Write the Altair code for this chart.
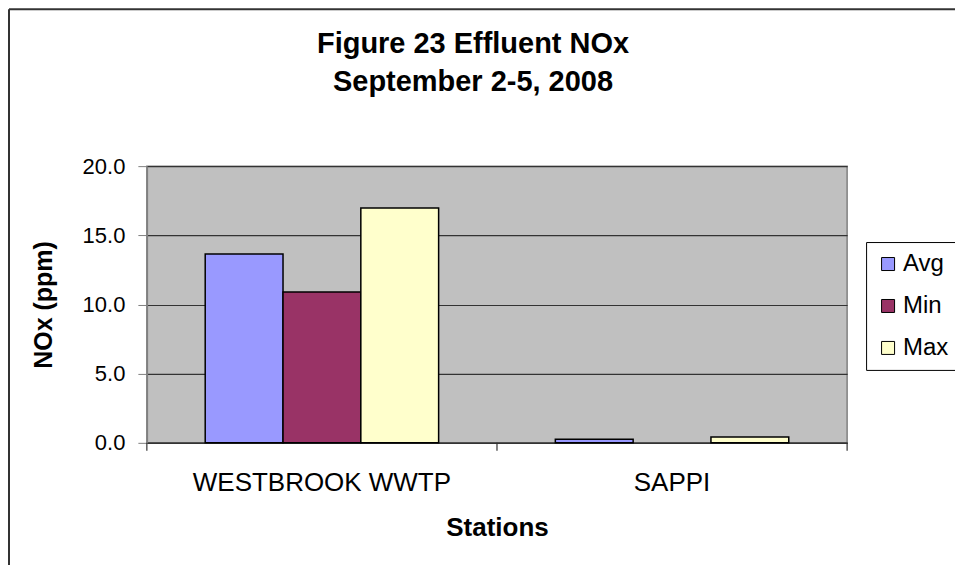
import altair as alt
import pandas as pd

stations = ["WESTBROOK WWTP", "SAPPI"]
series = ["Avg", "Min", "Max"]
avg_vals = [13.65, 0.26]
min_vals = [10.9, None]
max_vals = [16.98, 0.43]
colors = ["#9999FF", "#993366", "#FFFFCC"]
y_ticks = [0, 5, 10, 15, 20]

rows = []
for i, s in enumerate(stations):
    for name, vals in zip(series, [avg_vals, min_vals, max_vals]):
        if vals[i] is not None:
            rows.append({"Station": s, "Series": name, "NOx": vals[i]})
df = pd.DataFrame(rows)
st_df = pd.DataFrame({"Station": stations})

W, H = 701, 277
FONT = "Liberation Sans"

x_axis = alt.Axis(
    title="Stations", ticks=False, domainColor="#333333", domainWidth=1.5,
    labelAngle=0, labelFontSize=26, labelPadding=27, labelFont=FONT, labelLimit=0,
    labelColor="black", titleFontSize=26, titleFont=FONT, titleFontWeight="bold",
    titleColor="black", titlePadding=19, grid=False,
)
x_scale = alt.Scale(paddingInner=0, paddingOuter=0)

bars = alt.Chart(df).mark_bar(stroke="black", strokeWidth=1.5).encode(
    x=alt.X("Station:N", sort=stations, scale=x_scale, axis=x_axis),
    xOffset=alt.XOffset("Series:N", sort=series,
                        scale=alt.Scale(paddingInner=0, paddingOuter=0.75)),
    y=alt.Y("NOx:Q", scale=alt.Scale(domain=[0, 20], nice=False),
            axis=alt.Axis(
                title="NOx (ppm)", values=y_ticks, format=".1f",
                tickSize=9, tickColor="#808080", domainColor="#808080",
                domainWidth=1.5, labelFontSize=22, labelPadding=13,
                labelFont=FONT, labelColor="black",
                titleFontSize=25, titleFont=FONT, titleFontWeight="bold",
                titleColor="black", titlePadding=26,
                grid=True, gridColor="#333333", gridWidth=1.2,
            )),
    fill=alt.Fill("Series:N", sort=series,
                  scale=alt.Scale(domain=series, range=colors),
                  legend=alt.Legend(
                      title=None, orient="none", legendX=720, legendY=76,
                      strokeColor="black", fillColor="white", padding=10,
                      labelFontSize=24, labelFont=FONT, labelColor="black",
                      symbolType="square", symbolSize=169,
                      symbolStrokeColor="black", symbolStrokeWidth=1,
                      rowPadding=18, labelOffset=3,
                  )),
)

ticks = alt.Chart(st_df).mark_rule(color="#333333", strokeWidth=1.2).encode(
    x=alt.X("Station:N", sort=stations, scale=x_scale, axis=x_axis, bandPosition=0),
    y=alt.value(H), y2=alt.value(H + 8),
)
end_tick = alt.Chart(alt.Data(values=[{}])).mark_rule(color="#333333", strokeWidth=1.2).encode(
    x=alt.value(W), y=alt.value(H), y2=alt.value(H + 8),
)
frame_left = alt.Chart(alt.Data(values=[{}])).mark_rule(color="#333333", strokeWidth=2).encode(
    x=alt.value(-138), y=alt.value(-157), y2=alt.value(H + 130),
)
frame_top = alt.Chart(alt.Data(values=[{}])).mark_rule(color="#333333", strokeWidth=2).encode(
    x=alt.value(-138), x2=alt.value(W + 108), y=alt.value(-157),
)

chart = alt.layer(bars, ticks, end_tick, frame_left, frame_top).properties(
    width=W, height=H,
    title=alt.TitleParams(
        text=["Figure 23 Effluent NOx", "September 2-5, 2008"],
        fontSize=29, font=FONT, fontWeight="bold", color="black",
        lineHeight=38, anchor="middle", dx=-24, offset=0, dy=89,
    ),
    autosize=alt.AutoSizeParams(type="none"),
    padding={"left": 139, "top": 158, "right": 108, "bottom": 122},
    background="white",
).configure_view(fill="#C0C0C0", stroke="#808080", strokeWidth=1.5)

chart.save("out.html", embed_options={"renderer": "svg", "actions": False})
